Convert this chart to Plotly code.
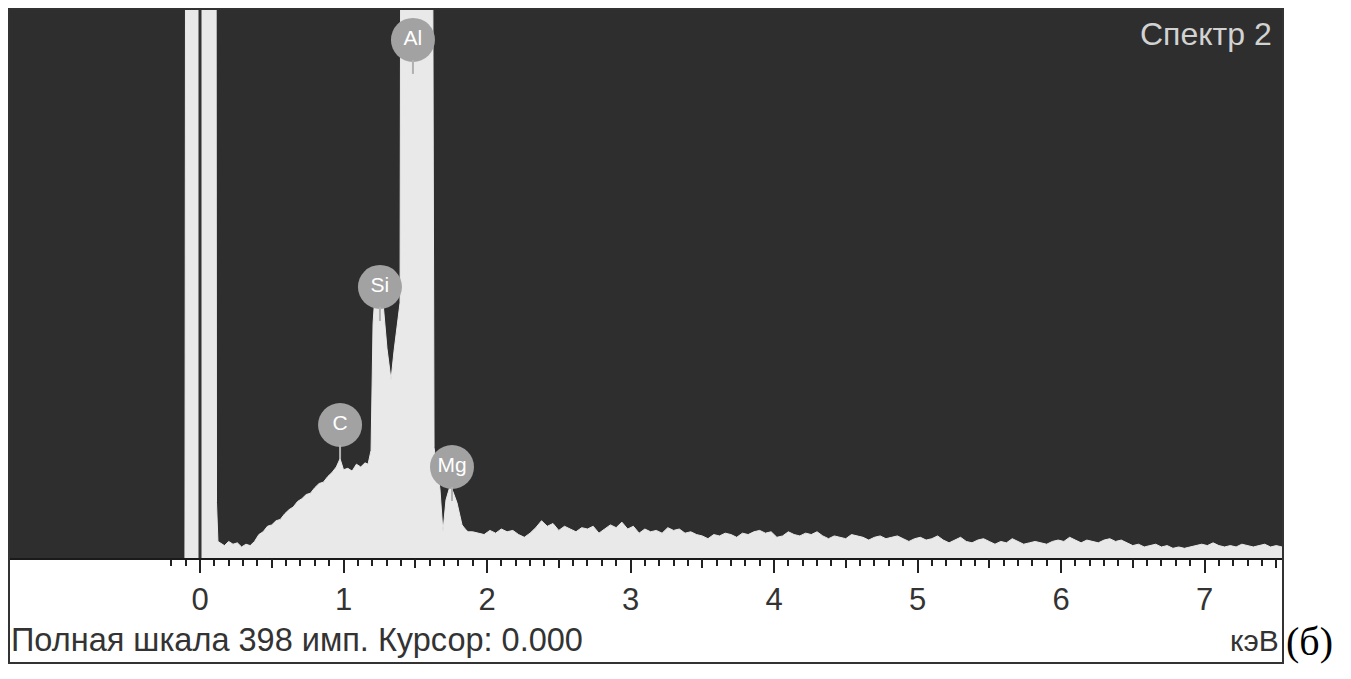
import plotly.graph_objects as go

# ---------------- data ----------------
full_scale = 398  # "Полная шкала 398 имп."

# spectrum around the low-energy peaks (keV, counts)
peak_energy = [-0.105, -0.091, 0.105, 0.115, 0.125, 0.14, 0.17, 0.20, 0.23, 0.26, 0.29, 0.32,
               0.35, 0.38, 0.41, 0.44, 0.47, 0.50, 0.53, 0.56, 0.59, 0.62, 0.65, 0.68, 0.71,
               0.74, 0.77, 0.80, 0.83, 0.86, 0.89, 0.92, 0.95, 0.976, 1.00, 1.03, 1.06, 1.09,
               1.12, 1.15, 1.171, 1.192, 1.206, 1.220, 1.240, 1.262, 1.278, 1.303, 1.331,
               1.352, 1.373, 1.394, 1.401, 1.45, 1.50, 1.56, 1.61, 1.624, 1.631, 1.659, 1.672,
               1.693, 1.714, 1.742, 1.763, 1.791, 1.826, 1.848, 1.868]
peak_counts = [0, 1500, 1500, 40, 12, 11, 9, 12, 10, 11, 8, 10,
               9, 12, 17, 19, 23, 24, 27, 28, 32, 35, 37, 41, 43,
               46, 47, 51, 54, 55, 59, 62, 66, 72, 64, 65, 63, 68,
               66, 69, 68, 78, 170, 192, 200, 196, 182, 152, 129,
               150, 168, 185, 600, 1200, 1500, 1300, 900, 420, 80, 60, 50,
               19, 42, 52, 48, 40, 24, 21, 19]

# flat part of the spectrum, channels every 0.04 keV starting at 1.90 keV
tail_start = 1.90
tail_step = 0.04
tail_counts = [19, 18, 17, 20, 18, 21, 19, 20, 17, 15, 18, 22, 27, 23, 25, 20, 23, 21, 19, 22,
               21, 23, 18, 21, 24, 22, 26, 21, 23, 18, 21, 19, 20, 18, 22, 20, 21, 18, 19, 17,
               16, 14, 17, 16, 18, 17, 15, 18, 17, 19, 20, 18, 19, 15, 16, 19, 17, 16, 18, 17,
               19, 16, 14, 16, 15, 14, 17, 16, 15, 13, 15, 16, 14, 15, 16, 14, 12, 14, 15, 13,
               14, 16, 13, 11, 13, 15, 12, 11, 13, 14, 12, 10, 12, 11, 14, 12, 10, 11, 12, 11,
               10, 12, 13, 12, 15, 13, 11, 13, 12, 11, 13, 14, 12, 13, 11, 9, 10, 8, 9, 10,
               8, 9, 7, 8, 7, 8, 9, 10, 9, 11, 9, 8, 9, 8, 10, 9, 8, 9, 10, 8, 9, 8]

# element markers
badge_labels = ["Al", "Si", "C", "Mg"]
badge_energy = [1.484, 1.254, 0.976, 1.756]
badge_counts = [375.6, 196.5, 96.4, 66.0]

# axis ticks
tick_values = [0, 1, 2, 3, 4, 5, 6, 7]
tick_text = ["0", "1", "2", "3", "4", "5", "6", "7"]
x_range = [-1.338, 7.547]

cursor_energy = 0.0
title_text = "Спектр 2"
footer_text = "Полная шкала 398 имп. Курсор: 0.000"
unit_text = "кэВ"
panel_text = "(б)"

# ---------------- build ----------------
tail_energy = [round(tail_start + tail_step * i, 3) for i in range(len(tail_counts))]
energy = peak_energy + tail_energy
counts = peak_counts + tail_counts

minor_vals = [round(-0.2 + 0.1 * i, 2) for i in range(78)]
half_vals = [v + 0.5 for v in tick_values]
minor_vals = [v for v in minor_vals if abs(v * 2 - round(v * 2)) > 1e-6]

OFF = 8  # page body margin
W, H = 1351 - OFF, 679 - OFF
PL, PR, PT, PB = 8, 1283, 9, 558  # plot area on the page
L, T = PL - OFF, PT - OFF
R = W - (PR - OFF)
B = H - (PB - OFF)
pw, ph = PR - PL, PB - PT


def px(xp):
    return (xp - PL) / pw


def py(yp):
    return (PB - yp) / ph


font_main = "Liberation Sans, Arial, sans-serif"

fig = go.Figure()
fig.add_trace(go.Scatter(
    x=energy, y=counts, mode="lines", fill="tozeroy",
    fillcolor="#e9e9e9", line=dict(color="#e9e9e9", width=1),
    hoverinfo="skip", showlegend=False))

cpp = full_scale / ph  # counts per pixel
for e, c in zip(badge_energy, badge_counts):
    fig.add_shape(type="line", x0=e, x1=e, y0=c - 20 * cpp, y1=c - 34 * cpp,
                  xref="x", yref="y", line=dict(color="#b0b0b0", width=2))

fig.add_trace(go.Scatter(
    x=badge_energy, y=badge_counts, mode="markers+text", text=badge_labels,
    textposition="middle center",
    textfont=dict(color="white", size=21, family=font_main),
    marker=dict(size=44, color="#a2a2a2", line=dict(width=0)),
    cliponaxis=False, hoverinfo="skip", showlegend=False))

# dummy trace for second (overlay) axis carrying the half-keV ticks
fig.add_trace(go.Scatter(x=[x_range[0]], y=[0], xaxis="x2", mode="markers",
                         marker=dict(opacity=0), hoverinfo="skip", showlegend=False))

fig.add_shape(type="line", x0=cursor_energy, x1=cursor_energy, y0=0, y1=1,
              xref="x", yref="paper", line=dict(color="#333333", width=3))

fig.add_shape(type="rect", x0=px(9), x1=px(1283), y0=py(663), y1=1,
              xref="paper", yref="paper",
              line=dict(color="#333333", width=2), layer="above")

fig.update_layout(
    width=W, height=H,
    margin=dict(l=L, r=R, t=T, b=B),
    paper_bgcolor="white", plot_bgcolor="#2e2e2e",
    xaxis=dict(range=x_range, showgrid=False, zeroline=False,
               showline=True, linecolor="#1a1a1a", linewidth=2,
               tickmode="array", tickvals=tick_values, ticktext=tick_text,
               ticks="outside", ticklen=13, tickwidth=2, tickcolor="#222222",
               tickfont=dict(size=31, color="#333333", family=font_main),
               minor=dict(tickmode="array", tickvals=minor_vals, ticks="outside",
                          ticklen=6, tickwidth=2, tickcolor="#222222", showgrid=False),
               fixedrange=True),
    xaxis2=dict(range=x_range, overlaying="x", anchor="y", side="bottom",
                showgrid=False, zeroline=False, showline=False,
                tickmode="array", tickvals=half_vals, ticks="outside",
                ticklen=9, tickwidth=2, tickcolor="#222222",
                showticklabels=False, fixedrange=True),
    yaxis=dict(range=[0, full_scale], visible=False, fixedrange=True),
    annotations=[
        dict(text=title_text, x=px(1274), y=py(34), xref="paper", yref="paper",
             xanchor="right", yanchor="middle", showarrow=False,
             font=dict(size=32, color="#d2d2d2", family=font_main)),
        dict(text=footer_text, x=px(9), y=py(640), xref="paper", yref="paper",
             xanchor="left", yanchor="middle", showarrow=False,
             font=dict(size=32.5, color="#333333", family=font_main)),
        dict(text=unit_text, x=px(1281), y=py(640), xref="paper", yref="paper",
             xanchor="right", yanchor="middle", showarrow=False,
             font=dict(size=30, color="#333333", family=font_main)),
        dict(text=panel_text, x=px(1284), y=py(641), xref="paper", yref="paper",
             xanchor="left", yanchor="middle", showarrow=False,
             font=dict(size=40, color="#000000", family="Liberation Serif, Times New Roman, serif")),
    ],
)

fig.write_html("out.html")
